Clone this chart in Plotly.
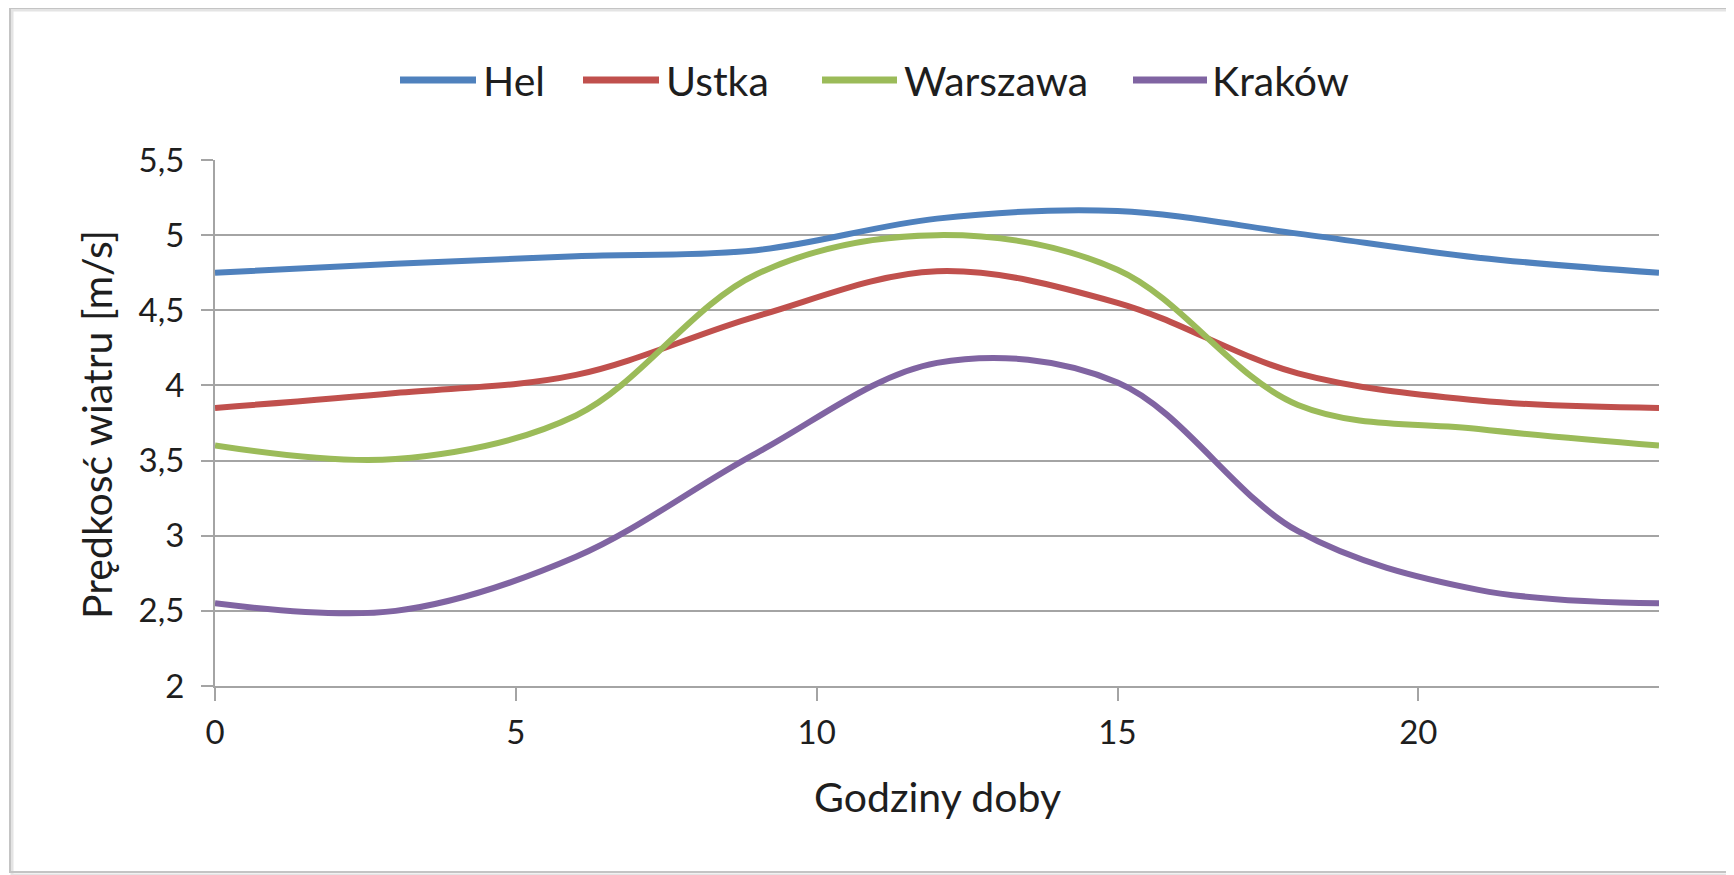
import plotly.graph_objects as go

# Dane: prędkość wiatru co 3 godziny (terminy synoptyczne), 24 = powtórzenie 0
hours = [0, 3, 6, 9, 12, 15, 18, 21, 24]
hel = [4.75, 4.81, 4.86, 4.90, 5.11, 5.16, 5.01, 4.85, 4.75]
ustka = [3.85, 3.95, 4.07, 4.46, 4.76, 4.55, 4.08, 3.90, 3.85]
warszawa = [3.60, 3.51, 3.80, 4.74, 5.00, 4.77, 3.87, 3.71, 3.60]
krakow = [2.55, 2.50, 2.86, 3.55, 4.15, 4.02, 3.03, 2.64, 2.55]

names = ["Hel", "Ustka", "Warszawa", "Kraków"]
colors = ["#4F81BD", "#C0504D", "#9BBB59", "#8064A2"]
series = [hel, ustka, warszawa, krakow]

# strona ma 8px marginesu body, więc figura jest o tyle mniejsza
OFF = 8
W, H = 1734 - OFF, 875 - OFF
# obszar wykresu w pikselach strony
L, R, T, B = 215, 1659, 160, 686
FONT = "Lato"
TXT = "#1e1e1e"
GRID = "#a4a4a4"


def px(x):
    return (x - L) / (R - L)


def py(y):
    return (B - y) / (B - T)


fig = go.Figure()
for name, color, vals in zip(names, colors, series):
    fig.add_trace(go.Scatter(
        x=hours, y=vals, name=name, mode="lines",
        line=dict(color=color, width=6, shape="spline", smoothing=1.0),
        showlegend=False,
    ))

shapes = []
annotations = []

# ramka wykresu z lekkim cieniem
shapes.append(dict(type="rect", xref="paper", yref="paper",
                   x0=px(12), x1=px(1731), y0=py(875), y1=py(10),
                   line=dict(color="#e4e4e4", width=3), layer="below"))
shapes.append(dict(type="rect", xref="paper", yref="paper",
                   x0=px(10), x1=px(1728), y0=py(872), y1=py(8),
                   line=dict(color="#c4c4c4", width=2), layer="below"))

# legenda rysowana ręcznie (dłuższe linie jak w Excelu)
legend_pos = [(400, 476, 481), (583, 659, 664), (822, 897, 902), (1133, 1207, 1210)]
for (x0, x1, xt), name, color in zip(legend_pos, names, colors):
    shapes.append(dict(type="line", xref="paper", yref="paper",
                       x0=px(x0), x1=px(x1), y0=py(80), y1=py(80),
                       line=dict(color=color, width=7)))
    annotations.append(dict(xref="paper", yref="paper", x=px(xt), y=py(80),
                            xanchor="left", yanchor="middle", showarrow=False,
                            text=name, font=dict(family=FONT, size=41, color=TXT)))

# tytuły osi
annotations.append(dict(xref="paper", yref="paper", x=px(937), y=py(796),
                        xanchor="center", yanchor="middle", showarrow=False,
                        text="Godziny doby", font=dict(family=FONT, size=41, color=TXT)))
annotations.append(dict(xref="paper", yref="paper", x=px(97), y=py(425),
                        xanchor="center", yanchor="middle", showarrow=False,
                        textangle=-90, text="Prędkosć wiatru [m/s]",
                        font=dict(family=FONT, size=41, color=TXT)))

fig.update_layout(
    width=W, height=H,
    margin=dict(l=L - OFF, r=1734 - R, t=T - OFF, b=875 - B, pad=0),
    paper_bgcolor="white", plot_bgcolor="white",
    separators=", ",
    font=dict(family=FONT, size=33, color=TXT),
    shapes=shapes, annotations=annotations,
    showlegend=False,
)
fig.update_xaxes(
    range=[0, 24], dtick=5, tick0=0,
    showgrid=False, zeroline=False,
    showline=True, linecolor=GRID, linewidth=2,
    ticks="outside", ticklen=13, tickwidth=2, tickcolor=GRID,
    ticklabelstandoff=3,
    tickfont=dict(family=FONT, size=33, color=TXT),
)
fig.update_yaxes(
    range=[2, 5.5], dtick=0.5, tick0=2,
    showgrid=True, gridcolor=GRID, gridwidth=2, zeroline=False,
    showline=True, linecolor=GRID, linewidth=2,
    ticks="outside", ticklen=12, tickwidth=2, tickcolor=GRID,
    ticklabelstandoff=10,
    tickfont=dict(family=FONT, size=33, color=TXT),
)

fig.write_html("out.html")
